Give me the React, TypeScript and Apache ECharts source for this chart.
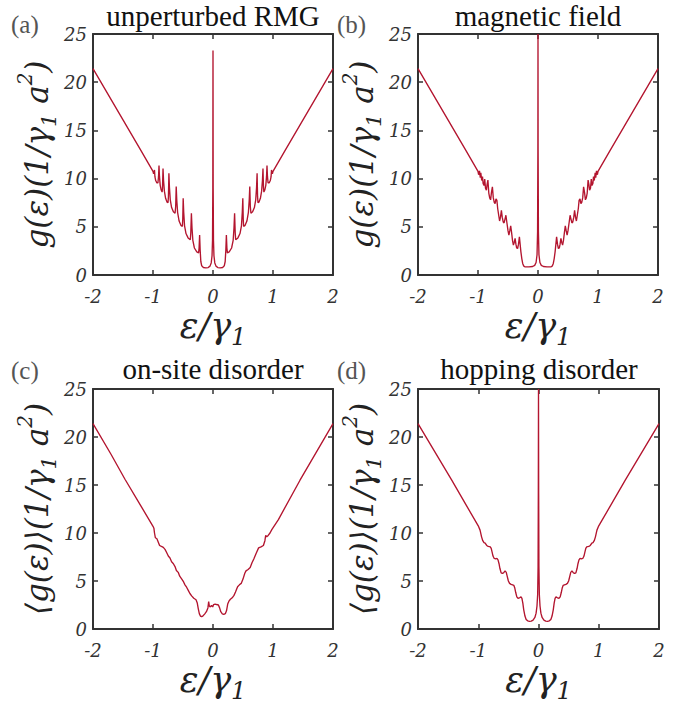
import React, { useEffect, useRef } from "react";
import * as echarts from "echarts";

// ---------- data ----------
const xTicks = [-2, -1, 0, 1, 2];
const yTicks = [0, 5, 10, 15, 20, 25];

const panelTitles = ["unperturbed RMG", "magnetic field", "on-site disorder", "hopping disorder"];
const panelLetters = ["(a)", "(b)", "(c)", "(d)"];

const dosA: number[][] = [
  [-2, 21.4], [-1.5, 16.1], [-1.2, 12.9], [-1.0, 10.75], [-0.99, 10.5], [-0.982, 10.6], [-0.975, 10.9],
  [-0.968, 10.2], [-0.955, 9.8], [-0.935, 9.55], [-0.918, 9.55], [-0.908, 10.2], [-0.9, 11.35],
  [-0.892, 10.2], [-0.88, 9.3], [-0.865, 8.85], [-0.848, 8.6], [-0.842, 9.0], [-0.833, 11.05],
  [-0.824, 9.8], [-0.81, 8.7], [-0.79, 7.95], [-0.765, 7.55], [-0.75, 7.5], [-0.743, 8.1], [-0.735, 10.55],
  [-0.726, 9.1], [-0.712, 7.8], [-0.69, 7.0], [-0.66, 6.55], [-0.632, 6.4], [-0.622, 7.1], [-0.613, 9.17],
  [-0.604, 7.8], [-0.59, 6.5], [-0.565, 5.6], [-0.535, 5.15], [-0.51, 5.05], [-0.504, 5.8], [-0.497, 7.96],
  [-0.488, 6.5], [-0.474, 5.1], [-0.45, 4.3], [-0.415, 3.85], [-0.378, 3.65], [-0.37, 4.4], [-0.36, 6.4],
  [-0.35, 4.9], [-0.336, 3.6], [-0.31, 2.8], [-0.27, 2.4], [-0.24, 2.3], [-0.232, 2.8], [-0.223, 4.15],
  [-0.214, 2.6], [-0.203, 1.4], [-0.188, 0.95], [-0.16, 0.78], [-0.12, 0.74], [-0.08, 0.77], [-0.05, 0.92],
  [-0.03, 1.25], [-0.016, 2.0], [-0.008, 3.6], [-0.003, 9], [0, 23.3],
  [0.003, 9], [0.008, 3.6], [0.016, 2.0], [0.03, 1.25], [0.05, 0.92], [0.08, 0.77], [0.12, 0.74],
  [0.16, 0.78], [0.188, 0.95], [0.203, 1.4], [0.214, 2.6], [0.223, 4.15], [0.232, 2.8], [0.24, 2.3],
  [0.27, 2.4], [0.31, 2.8], [0.336, 3.6], [0.35, 4.9], [0.36, 6.4], [0.37, 4.4], [0.378, 3.65],
  [0.415, 3.85], [0.45, 4.3], [0.474, 5.1], [0.488, 6.5], [0.497, 7.96], [0.504, 5.8], [0.51, 5.05],
  [0.535, 5.15], [0.565, 5.6], [0.59, 6.5], [0.604, 7.8], [0.613, 9.17], [0.622, 7.1], [0.632, 6.4],
  [0.66, 6.55], [0.69, 7.0], [0.712, 7.8], [0.726, 9.1], [0.735, 10.55], [0.743, 8.1], [0.75, 7.5],
  [0.765, 7.55], [0.79, 7.95], [0.81, 8.7], [0.824, 9.8], [0.833, 11.05], [0.842, 9.0], [0.848, 8.6],
  [0.865, 8.85], [0.88, 9.3], [0.892, 10.2], [0.9, 11.35], [0.908, 10.2], [0.918, 9.55], [0.935, 9.55],
  [0.955, 9.8], [0.968, 10.2], [0.975, 10.9], [0.982, 10.6], [0.99, 10.5], [1.0, 10.75], [1.2, 12.9],
  [1.5, 16.1], [2, 21.4],
];

const dosB: number[][] = [
  [-2, 21.4], [-1.5, 16.1], [-1.2, 12.9], [-1.0, 10.75], [-0.99, 10.4], [-0.975, 10.8], [-0.962, 10.1],
  [-0.953, 10.6], [-0.938, 9.8], [-0.925, 10.2], [-0.915, 9.5], [-0.9, 9.3], [-0.888, 9.95], [-0.875, 9.0],
  [-0.86, 8.8], [-0.848, 9.4], [-0.835, 9.85], [-0.82, 8.5], [-0.805, 8.0], [-0.79, 7.8], [-0.775, 8.6],
  [-0.76, 9.15], [-0.745, 8.0], [-0.728, 7.5], [-0.715, 7.4], [-0.7, 7.9], [-0.685, 7.75], [-0.672, 6.9],
  [-0.655, 6.2], [-0.64, 5.6], [-0.625, 6.0], [-0.61, 6.7], [-0.596, 6.0], [-0.58, 5.5], [-0.565, 5.4],
  [-0.55, 5.8], [-0.535, 6.2], [-0.52, 5.5], [-0.5, 4.6], [-0.485, 4.15], [-0.47, 4.6], [-0.455, 5.1],
  [-0.44, 4.4], [-0.425, 3.6], [-0.41, 3.1], [-0.395, 3.4], [-0.382, 3.8], [-0.368, 3.2], [-0.355, 2.8],
  [-0.34, 2.75], [-0.325, 3.2], [-0.31, 3.95], [-0.298, 3.2], [-0.285, 2.4], [-0.27, 1.7], [-0.255, 1.2],
  [-0.24, 0.95], [-0.22, 0.86], [-0.15, 0.85], [-0.09, 0.88], [-0.055, 1.0], [-0.032, 1.3], [-0.016, 2.1],
  [-0.007, 4.5], [-0.002, 13], [0, 25],
  [0.002, 13], [0.007, 4.5], [0.016, 2.1], [0.032, 1.3], [0.055, 1.0], [0.09, 0.88], [0.15, 0.85],
  [0.22, 0.86], [0.24, 0.95], [0.255, 1.2], [0.27, 1.7], [0.285, 2.4], [0.298, 3.2], [0.31, 3.95],
  [0.325, 3.2], [0.34, 2.75], [0.355, 2.8], [0.368, 3.2], [0.382, 3.8], [0.395, 3.4], [0.41, 3.1],
  [0.425, 3.6], [0.44, 4.4], [0.455, 5.1], [0.47, 4.6], [0.485, 4.15], [0.5, 4.6], [0.52, 5.5],
  [0.535, 6.2], [0.55, 5.8], [0.565, 5.4], [0.58, 5.5], [0.596, 6.0], [0.61, 6.7], [0.625, 6.0],
  [0.64, 5.6], [0.655, 6.2], [0.672, 6.9], [0.685, 7.75], [0.7, 7.9], [0.715, 7.4], [0.728, 7.5],
  [0.745, 8.0], [0.76, 9.15], [0.775, 8.6], [0.79, 7.8], [0.805, 8.0], [0.82, 8.5], [0.835, 9.85],
  [0.848, 9.4], [0.86, 8.8], [0.875, 9.0], [0.888, 9.95], [0.9, 9.3], [0.915, 9.5], [0.925, 10.2],
  [0.938, 9.8], [0.953, 10.6], [0.962, 10.1], [0.975, 10.8], [0.99, 10.4], [1.0, 10.75], [1.2, 12.9],
  [1.5, 16.1], [2, 21.4],
];

const dosC: number[][] = [
  [-2, 21.4], [-1.7, 18.2], [-1.467, 15.6], [-1.2, 12.8], [-1.0, 10.7], [-0.985, 10.5], [-0.975, 10.0],
  [-0.96, 9.5], [-0.935, 9.4], [-0.915, 9.1], [-0.89, 8.7], [-0.86, 8.6], [-0.828, 8.5], [-0.8, 8.3],
  [-0.775, 8.0], [-0.745, 7.6], [-0.717, 7.4], [-0.69, 7.0], [-0.66, 6.8], [-0.633, 6.5], [-0.61, 6.1],
  [-0.58, 5.9], [-0.555, 5.5], [-0.52, 5.2], [-0.49, 4.9], [-0.467, 4.6], [-0.44, 4.35], [-0.41, 4.0],
  [-0.385, 3.7], [-0.356, 3.45], [-0.32, 3.2], [-0.283, 3.05], [-0.262, 2.7], [-0.245, 2.1], [-0.228, 1.6],
  [-0.21, 1.35], [-0.19, 1.28], [-0.17, 1.35], [-0.14, 1.55], [-0.11, 1.8], [-0.085, 2.2], [-0.072, 2.85],
  [-0.062, 2.4], [-0.045, 2.3], [-0.025, 2.45], [-0.005, 2.3], [0.01, 2.55], [0.035, 2.6], [0.06, 2.55],
  [0.09, 2.5], [0.11, 2.2], [0.13, 1.8], [0.155, 1.58], [0.18, 1.53], [0.205, 1.6], [0.225, 1.9],
  [0.245, 2.6], [0.265, 2.9], [0.29, 3.1], [0.32, 3.25], [0.35, 3.5], [0.375, 3.85], [0.41, 4.4],
  [0.44, 4.6], [0.47, 4.75], [0.5, 5.2], [0.53, 5.8], [0.55, 6.05], [0.585, 6.2], [0.62, 6.4], [0.65, 6.9],
  [0.68, 7.3], [0.72, 7.9], [0.76, 8.45], [0.8, 8.55], [0.84, 8.7], [0.865, 9.2], [0.878, 9.75],
  [0.895, 9.6], [0.92, 9.75], [0.95, 10.0], [0.98, 10.35], [1.09, 11.4], [1.45, 15.5], [2, 21.4],
];

const dosD: number[][] = [
  [-2, 21.4], [-1.44, 15.5], [-1.2, 12.9], [-1.0, 10.75], [-0.97, 10.3], [-0.945, 9.6], [-0.925, 9.2],
  [-0.905, 9.0], [-0.885, 8.95], [-0.86, 8.7], [-0.835, 8.6], [-0.8, 8.55], [-0.785, 8.4], [-0.77, 8.0],
  [-0.755, 7.6], [-0.735, 7.35], [-0.71, 7.3], [-0.69, 7.35], [-0.672, 7.2], [-0.655, 6.8], [-0.64, 6.3],
  [-0.62, 5.85], [-0.6, 5.8], [-0.58, 5.85], [-0.555, 6.05], [-0.535, 5.9], [-0.52, 5.5], [-0.5, 5.0],
  [-0.48, 4.75], [-0.455, 4.65], [-0.43, 4.6], [-0.41, 4.55], [-0.395, 4.3], [-0.378, 3.8], [-0.36, 3.35],
  [-0.34, 3.2], [-0.315, 3.25], [-0.29, 3.35], [-0.275, 3.2], [-0.26, 2.7], [-0.245, 2.0], [-0.225, 1.35],
  [-0.205, 1.0], [-0.18, 0.85], [-0.15, 0.8], [-0.12, 0.82], [-0.09, 0.92], [-0.06, 1.2], [-0.04, 1.65],
  [-0.025, 2.4], [-0.014, 3.6], [-0.007, 6.5], [-0.003, 14], [0, 25],
  [0.003, 14], [0.007, 6.5], [0.014, 3.6], [0.025, 2.4], [0.04, 1.65], [0.06, 1.2], [0.09, 0.92],
  [0.12, 0.82], [0.15, 0.8], [0.18, 0.85], [0.205, 1.0], [0.225, 1.35], [0.245, 2.0], [0.26, 2.7],
  [0.275, 3.2], [0.29, 3.35], [0.315, 3.25], [0.34, 3.2], [0.36, 3.35], [0.378, 3.8], [0.395, 4.3],
  [0.41, 4.55], [0.43, 4.6], [0.455, 4.65], [0.48, 4.75], [0.5, 5.0], [0.52, 5.5], [0.535, 5.9],
  [0.555, 6.05], [0.58, 5.85], [0.6, 5.8], [0.62, 5.85], [0.64, 6.3], [0.655, 6.8], [0.672, 7.2],
  [0.69, 7.35], [0.71, 7.3], [0.735, 7.35], [0.755, 7.6], [0.77, 8.0], [0.785, 8.4], [0.8, 8.55],
  [0.835, 8.6], [0.86, 8.7], [0.885, 8.95], [0.905, 9.0], [0.925, 9.2], [0.945, 9.6], [0.97, 10.3],
  [1.0, 10.75], [1.2, 12.9], [1.44, 15.5], [2, 21.4],
];

const panelData = [dosA, dosB, dosC, dosD];

// ---------- layout / style ----------
const grids = [
  { left: 93, top: 34, width: 240, height: 241 },
  { left: 418, top: 34, width: 240, height: 241 },
  { left: 93, top: 389, width: 240, height: 240 },
  { left: 418, top: 389, width: 241, height: 240 },
];
const titlePos = [
  [213, 16], [538, 16], [213, 369], [539, 369],
];
const letterPos = [
  [11, 24], [337, 24], [11, 370], [337, 370],
];

const LINE_COLOR = "#b3152f";
const AXIS_COLOR = "#333333";
const SERIF = '"DejaVu Serif", serif';

const nameRich = {
  i: { fontFamily: SERIF, fontStyle: "italic", fontSize: 31, lineHeight: 44, color: "#222" },
  s: { fontFamily: SERIF, fontStyle: "italic", fontSize: 21, lineHeight: 21, verticalAlign: "bottom", color: "#222" },
  p: { fontFamily: SERIF, fontStyle: "italic", fontSize: 20, lineHeight: 20, verticalAlign: "top", color: "#222" },
};
const xRich = {
  i: { fontFamily: SERIF, fontStyle: "italic", fontSize: 35, lineHeight: 46, color: "#222" },
  s: { fontFamily: SERIF, fontStyle: "italic", fontSize: 24, lineHeight: 24, verticalAlign: "bottom", color: "#222" },
};

const yNames = [
  "{i|g(ε)(1/γ}{s|1}{i| a}{p|2}{i|)}",
  "{i|g(ε)(1/γ}{s|1}{i| a}{p|2}{i|)}",
  "{i|⟨g(ε)⟩(1/γ}{s|1}{i| a}{p|2}{i|)}",
  "{i|⟨g(ε)⟩(1/γ}{s|1}{i| a}{p|2}{i|)}",
];
const xName = "{i|ε/γ}{s|1}";

function axisCommon(gridIndex: number, showLabel: boolean) {
  return {
    type: "value",
    gridIndex,
    axisLine: { show: true, onZero: false, lineStyle: { color: AXIS_COLOR, width: 2 } },
    axisTick: { show: true, inside: true, length: 5, lineStyle: { color: AXIS_COLOR, width: 1.5 } },
    splitLine: { show: false },
    axisLabel: {
      show: showLabel,
      fontFamily: SERIF,
      fontStyle: "italic",
      fontSize: 18,
      color: AXIS_COLOR,
    },
  };
}

export default function App() {
  const ref = useRef<HTMLDivElement>(null);
  useEffect(() => {
    if (!ref.current) return;
    const chart = echarts.init(ref.current, undefined, { renderer: "svg" });
    const xAxes: any[] = [];
    const yAxes: any[] = [];
    const series: any[] = [];
    const graphic: any[] = [];
    grids.forEach((g, i) => {
      const xb = axisCommon(i, true) as any;
      xb.position = "bottom";
      xb.min = xTicks[0];
      xb.max = xTicks[xTicks.length - 1];
      xb.interval = xTicks[1] - xTicks[0];
      xb.axisLabel.margin = 12;
      xb.name = xName;
      xb.nameLocation = "middle";
      xb.nameGap = 28;
      xb.nameTextStyle = { rich: xRich };
      const xt = axisCommon(i, false) as any;
      xt.position = "top";
      xt.min = xTicks[0];
      xt.max = xTicks[xTicks.length - 1];
      xt.interval = xTicks[1] - xTicks[0];
      xAxes.push(xb, xt);

      const yl = axisCommon(i, true) as any;
      yl.position = "left";
      yl.min = yTicks[0];
      yl.max = yTicks[yTicks.length - 1];
      yl.interval = yTicks[1] - yTicks[0];
      yl.axisLabel.margin = 6;
      yl.name = yNames[i];
      yl.nameLocation = "middle";
      yl.nameRotate = 90;
      yl.nameGap = 34;
      yl.nameTextStyle = { rich: nameRich };
      const yr = axisCommon(i, false) as any;
      yr.position = "right";
      yr.min = yTicks[0];
      yr.max = yTicks[yTicks.length - 1];
      yr.interval = yTicks[1] - yTicks[0];
      yAxes.push(yl, yr);

      series.push({
        type: "line",
        xAxisIndex: 2 * i,
        yAxisIndex: 2 * i,
        data: panelData[i],
        showSymbol: false,
        symbol: "none",
        clip: true,
        lineStyle: { color: LINE_COLOR, width: 1.35 },
      });

      graphic.push({
        type: "text",
        x: titlePos[i][0],
        y: titlePos[i][1],
        style: {
          text: panelTitles[i],
          font: '29px "Liberation Serif", serif',
          fill: "#111",
          textAlign: "center",
          textVerticalAlign: "middle",
        },
      });
      graphic.push({
        type: "text",
        x: letterPos[i][0],
        y: letterPos[i][1],
        style: {
          text: panelLetters[i],
          font: '25px "Liberation Serif", serif',
          fill: "#555",
          textAlign: "left",
          textVerticalAlign: "middle",
        },
      });
    });

    chart.setOption({
      animation: false,
      backgroundColor: "#ffffff",
      grid: grids.map((g) => ({ ...g, containLabel: false })),
      xAxis: xAxes,
      yAxis: yAxes,
      series,
      graphic,
    });
    return () => chart.dispose();
  }, []);
  return (
    <div
      ref={ref}
      style={{ position: "absolute", left: 0, top: 0, width: 691, height: 709, background: "#fff" }}
    />
  );
}
